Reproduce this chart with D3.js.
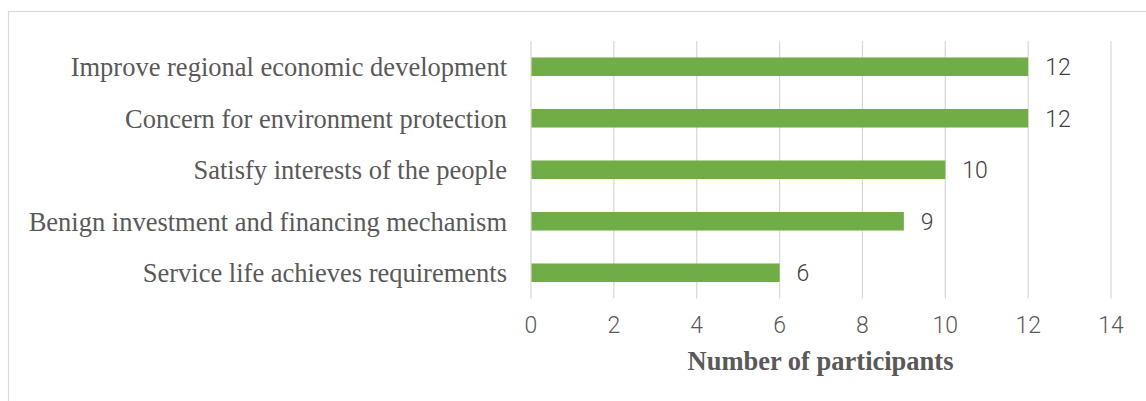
<!DOCTYPE html>
<html>
<head>
<meta charset="utf-8">
<script src="https://cdn.jsdelivr.net/npm/d3@7"></script>
<style>
  body { margin: 0; background: #fff; }
</style>
</head>
<body>
<div class="sandbox"></div>
<script>
var categories = [
  "Improve regional economic development",
  "Concern for environment protection",
  "Satisfy interests of the people",
  "Benign investment and financing mechanism",
  "Service life achieves requirements"
];
var values = [12, 12, 10, 9, 6];
var xTicks = [0, 2, 4, 6, 8, 10, 12, 14];
var xTitle = "Number of participants";

var w = 1146, h = 401;
var svg = d3.select(".sandbox").append("svg")
  .attr("width", w)
  .attr("height", h);

// chart border
svg.append("rect")
  .attr("x", 8.5).attr("y", 11.5)
  .attr("width", w + 10).attr("height", h + 10)
  .attr("fill", "none")
  .attr("stroke", "#d9d9d9")
  .attr("stroke-width", 1.2);

var x = d3.scaleLinear().domain([0, 14]).range([531, 1111]);
var y = d3.scaleBand().domain(categories).range([41, 298.5])
  .paddingInner(0.64).paddingOuter(0.32);

var grid = svg.append("g");
grid.selectAll("line")
  .data(xTicks)
  .enter()
  .append("line")
  .attr("x1", d => x(d)).attr("x2", d => x(d))
  .attr("y1", 41).attr("y2", 298.5)
  .attr("stroke", "#d9d9d9")
  .attr("stroke-width", 1.3);

svg.selectAll(".bar")
  .data(values)
  .enter()
  .append("rect")
  .attr("class", "bar")
  .attr("x", x(0) + 0.5)
  .attr("y", (d, i) => y(categories[i]))
  .attr("width", d => x(d) - x(0) - 0.5)
  .attr("height", y.bandwidth())
  .attr("fill", "#70ad47");

svg.selectAll(".val")
  .data(values)
  .enter()
  .append("text")
  .attr("class", "val")
  .attr("x", d => x(d) + 17)
  .attr("y", (d, i) => y(categories[i]) + y.bandwidth() / 2)
  .attr("dy", "0.36em")
  .attr("font-family", "Roboto, 'Noto Sans', sans-serif")
  .attr("font-weight", 300)
  .attr("font-size", 23)
  .attr("fill", "#404040")
  .text(d => d);

svg.selectAll(".cat")
  .data(categories)
  .enter()
  .append("text")
  .attr("class", "cat")
  .attr("x", 507)
  .attr("y", d => y(d) + y.bandwidth() / 2)
  .attr("dy", "0.35em")
  .attr("text-anchor", "end")
  .attr("font-family", "'Liberation Serif', 'Times New Roman', serif")
  .attr("font-size", 26.5)
  .attr("fill", "#595959")
  .text(d => d);

svg.selectAll(".tick")
  .data(xTicks)
  .enter()
  .append("text")
  .attr("class", "tick")
  .attr("x", d => x(d))
  .attr("y", 333)
  .attr("text-anchor", "middle")
  .attr("font-family", "Roboto, 'Noto Sans', sans-serif")
  .attr("font-weight", 300)
  .attr("font-size", 23)
  .attr("fill", "#595959")
  .text(d => d);

svg.append("text")
  .attr("x", 820.5)
  .attr("y", 370)
  .attr("text-anchor", "middle")
  .attr("font-family", "'Liberation Serif', 'Times New Roman', serif")
  .attr("font-weight", "bold")
  .attr("font-size", 26.5)
  .attr("fill", "#595959")
  .text(xTitle);
</script>
</body>
</html>
